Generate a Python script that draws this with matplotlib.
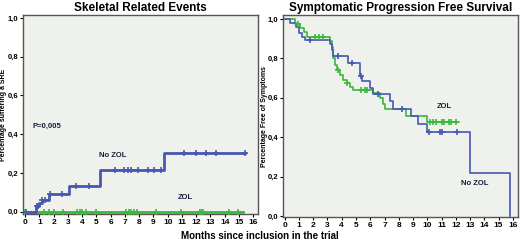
import numpy as np
import matplotlib
matplotlib.use("Agg")
import matplotlib.pyplot as plt

# Skeletal related events (left panel) - cumulative proportion with SRE
sre_nozol_t = [0, 0.75, 0.95, 1.2, 1.65, 3.05, 5.25, 9.75, 15.4]
sre_nozol_v = [0.0, 0.03, 0.045, 0.06, 0.09, 0.13, 0.215, 0.30, 0.30]
sre_nozol_cens = [0.05, 0.8, 0.9, 1.2, 1.4, 1.75, 2.55, 3.6, 4.5, 6.3, 6.9, 7.2,
                  7.45, 7.9, 8.6, 9.05, 9.5, 11.15, 12.0, 12.7, 13.4, 15.4]
sre_zol_t = [0, 15.3]
sre_zol_v = [0.0, 0.0]
sre_zol_cens = [0.0, 1.35, 1.7, 2.05, 2.65, 3.65, 3.85, 4.0, 4.3, 5.0, 7.1, 7.3,
                7.45, 7.65, 7.85, 9.2, 10.9, 12.25, 12.4, 12.5, 14.3, 14.95]

# Symptomatic progression free survival (right panel)
pfs_nozol_t = [0, 0.4, 0.8, 1.0, 1.2, 1.44, 3.19, 3.3, 3.42, 4.47, 5.3, 5.45,
               5.99, 6.2, 7.39, 7.62, 8.85, 9.38, 9.96, 13.0, 15.8]
pfs_nozol_v = [1.0, 0.98, 0.96, 0.93, 0.91, 0.895, 0.875, 0.84, 0.81, 0.777, 0.71,
               0.685, 0.651, 0.618, 0.584, 0.543, 0.509, 0.467, 0.425, 0.218, 0.0]
pfs_nozol_cens = [1.74, 3.72, 4.7, 5.38, 6.55, 8.2, 10.1, 10.9, 11.0, 12.1]
pfs_zol_t = [0, 0.74, 1.1, 1.35, 1.55, 3.19, 3.3, 3.42, 3.54, 3.7, 3.89, 4.12,
             4.36, 4.59, 4.82, 6.22, 6.69, 6.92, 7.04, 8.5, 10.0, 12.2]
pfs_zol_v = [1.0, 0.975, 0.955, 0.935, 0.91, 0.89, 0.858, 0.80, 0.766, 0.74, 0.715,
             0.69, 0.673, 0.656, 0.638, 0.626, 0.60, 0.568, 0.543, 0.509, 0.475, 0.475]
pfs_zol_cens = [0.9, 2.1, 2.4, 2.7, 3.72, 4.4, 5.35, 5.6, 5.75, 10.2, 10.4, 10.6,
                11.0, 11.2, 11.5, 11.7, 12.0]

xticks = list(range(17))
yticks = [0.0, 0.2, 0.4, 0.6, 0.8, 1.0]
ytick_labels = ["0,0", "0,2", "0,4", "0,6", "0,8", "1,0"]

blue = "#4858b0"
green = "#3cb83c"
bg = "#eff1ec"
txt = "#1c1c3c"
font = "Liberation Sans"


def level_at(ts, vs, x):
    i = np.searchsorted(ts, x, side="right") - 1
    return vs[max(i, 0)]


def km(ax, ts, vs, cens, color, lw):
    ax.step(ts, vs, where="post", color=color, lw=lw, zorder=3)
    cy = [level_at(ts, vs, c) for c in cens]
    ax.plot(cens, cy, ls="none", marker="+", ms=4, mew=1.2, color=color, zorder=4)


def style(ax, title, ylabel, xlim, ylim, label_x):
    ax.set_facecolor(bg)
    ax.set_xlim(*xlim)
    ax.set_ylim(*ylim)
    ax.set_xticks(xticks)
    ax.set_xticklabels([str(x) for x in xticks], fontsize=6, fontweight="bold", family=font)
    ax.set_yticks(yticks)
    ax.set_yticklabels(ytick_labels, fontsize=5.5, fontweight="bold", family=font)
    ax.tick_params(length=2.5, width=0.8, pad=1)
    for s in ax.spines.values():
        s.set_color("#555555")
        s.set_linewidth(1.0)
    ax.set_title(title, fontsize=8.5, fontweight="bold", family=font, pad=3)
    ax.set_ylabel(ylabel, fontsize=5, fontweight="bold", family=font)
    ax.yaxis.set_label_coords(label_x, 0.5)


fig = plt.figure(figsize=(5.2, 2.42), dpi=100)
ax1 = fig.add_axes([0.044, 0.116, 0.452, 0.822])
ax2 = fig.add_axes([0.544, 0.103, 0.452, 0.835])

km(ax1, sre_zol_t, sre_zol_v, sre_zol_cens, green, 2.0)
km(ax1, sre_nozol_t, sre_nozol_v, sre_nozol_cens, blue, 2.0)
style(ax1, "Skeletal Related Events", "Percentage suffering a SRE",
      (-0.16, 16.33), (-0.012, 1.015), -0.068)
ax1.text(0.5, 0.43, "P=0,005", fontsize=5.5, fontweight="bold", color=txt, family=font)
ax1.text(5.2, 0.28, "No ZOL", fontsize=5.5, fontweight="bold", color=txt, family=font)
ax1.text(10.7, 0.065, "ZOL", fontsize=5.5, fontweight="bold", color=txt, family=font)

km(ax2, pfs_zol_t, pfs_zol_v, pfs_zol_cens, green, 1.2)
km(ax2, pfs_nozol_t, pfs_nozol_v, pfs_nozol_cens, blue, 1.2)
style(ax2, "Symptomatic Progression Free Survival", "Percentage Free of Symptoms",
      (-0.13, 16.36), (-0.005, 1.02), -0.064)
ax2.text(10.7, 0.55, "ZOL", fontsize=5.5, fontweight="bold", color=txt, family=font)
ax2.text(12.4, 0.16, "No ZOL", fontsize=5.5, fontweight="bold", color=txt, family=font)

fig.text(0.5, 0.005, "Months since inclusion in the trial", ha="center", va="bottom",
         fontsize=7, fontweight="bold", family=font)

fig.savefig("out.png", dpi=100)
